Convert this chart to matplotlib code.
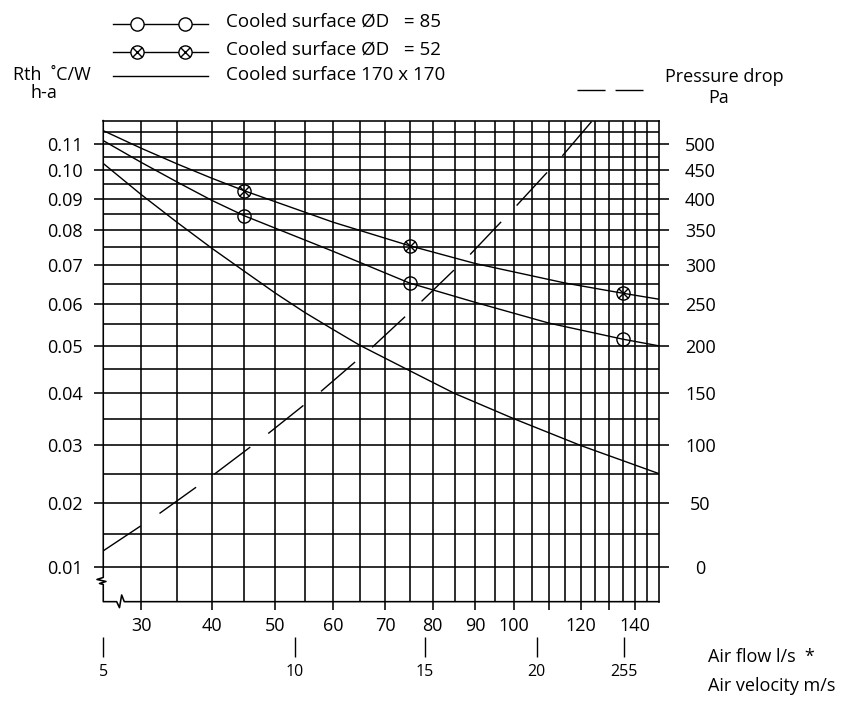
import numpy as np
import matplotlib
matplotlib.use("Agg")
from matplotlib import pyplot as plt

plt.rcParams['font.family'] = ['Open Sans', 'DejaVu Sans']

# values
# air flow in l/s, thermal resistance Rth(h-a) in degC/W
flow_170 = [25, 30, 35, 40, 45, 50, 55, 60, 65, 75, 85, 100, 120, 150]
rth_170 = [0.1024, 0.0913, 0.0823, 0.0747, 0.0683, 0.0626, 0.0578, 0.0538,
           0.0502, 0.0447, 0.0400, 0.0350, 0.0300, 0.0250]

flow_d85 = [25, 30, 35, 40, 45, 60, 75, 90, 110, 135, 150]
rth_d85 = [0.1114, 0.1028, 0.0956, 0.0894, 0.0844, 0.0738, 0.0652, 0.0603,
           0.0553, 0.0516, 0.0501]

flow_d52 = [25, 30, 35, 40, 45, 60, 75, 90, 115, 135, 150]
rth_d52 = [0.1156, 0.1083, 0.1022, 0.0970, 0.0926, 0.0824, 0.0754, 0.0704,
           0.0652, 0.0626, 0.0611]

# measured points (45, 75 and 135 l/s)
mark_idx = [4, 6, 9]

# pressure drop in Pa
flow_dp = [25, 32.5, 40.4, 48.8, 57.8, 67.5, 77.7, 88.8, 100.8, 114.3, 123.7]
dp = [12, 41.5, 74.5, 111, 152, 199.5, 253.5, 315, 389, 478, 548]

flow_ticks = [30, 40, 50, 60, 70, 80, 90, 100, 110, 120, 130, 140]
flow_labels = ['30', '40', '50', '60', '70', '80', '90', '100', '', '120', '', '140']
rth_ticks = [0.01, 0.02, 0.03, 0.04, 0.05, 0.06, 0.07, 0.08, 0.09, 0.10, 0.11]
pa_ticks = [0, 50, 100, 150, 200, 250, 300, 350, 400, 450, 500]
vel_flow = [25, 53.2, 78.3, 106.4, 135.4]
vel_labels = ['5', '10', '15', '20', '255']


# the datasheet grid is exponential on both axes
def fwd_q(q):
    return -np.exp(-0.01 * np.asarray(q, dtype=float))


def inv_q(f):
    return -100 * np.log(np.clip(-np.asarray(f, dtype=float), 1e-9, None))


def fwd_r(r):
    return -np.exp(-10 * np.asarray(r, dtype=float))


def inv_r(f):
    return -0.1 * np.log(np.clip(-np.asarray(f, dtype=float), 1e-9, None))


# pressure axis: 0 Pa <-> 0.01, 500 Pa <-> 0.11
def fwd_p(p):
    return fwd_r(np.asarray(p, dtype=float) / 5000 + 0.01)


def inv_p(f):
    return (inv_r(f) - 0.01) * 5000


r_lo, r_hi = 0.0049, 0.12
lw = 1.15

fig = plt.figure(figsize=(8.43, 7.01), dpi=100)
ax = fig.add_axes([0.1225, 0.1417, 0.6589, 0.6862])
ax.set_xscale('function', functions=(fwd_q, inv_q))
ax.set_yscale('function', functions=(fwd_r, inv_r))
ax.set_xlim(25, 150)
ax.set_ylim(r_lo, r_hi)

ax.set_xticks(flow_ticks, flow_labels)
ax.set_xticks(np.arange(35, 150, 10), minor=True)
ax.set_yticks(rth_ticks, [f'{v:.2f}' for v in rth_ticks])
ax.set_yticks(np.arange(0.015, 0.1151, 0.01), minor=True)
ax.grid(True, which='both', color='black', lw=lw)
ax.tick_params(axis='x', which='major', direction='out', length=6, width=lw,
               pad=5, labelsize=13)
ax.tick_params(axis='y', which='major', direction='out', length=6.5, width=lw,
               pad=8.5, labelsize=13)
ax.tick_params(which='minor', length=0)
ax.spines['left'].set_visible(False)
ax.spines['bottom'].set_visible(False)
for s in ['top', 'right']:
    ax.spines[s].set_linewidth(lw)

# curves
ax.plot(flow_170, rth_170, color='black', lw=1.0)
ax.plot(flow_d85, rth_d85, color='black', lw=1.0, marker='o', ms=9.5,
        mfc='none', mec='black', mew=1.0, markevery=mark_idx)
ax.plot(flow_d52, rth_d52, color='black', lw=1.0, marker='o', ms=9.5,
        mfc='none', mec='black', mew=1.0, markevery=mark_idx)
ax.plot(np.take(flow_d52, mark_idx), np.take(rth_d52, mark_idx), ls='none',
        marker='x', ms=6.7, mew=1.0, color='black')

# pressure drop on the right hand scale
axp = ax.twinx()
axp.set_yscale('function', functions=(fwd_p, inv_p))
axp.set_ylim((r_lo - 0.01) * 5000, (r_hi - 0.01) * 5000)
axp.set_yticks(pa_ticks, [str(v) for v in pa_ticks])
axp.tick_params(axis='y', direction='out', length=7, width=lw, pad=23, labelsize=13)
for lbl in axp.get_yticklabels():
    lbl.set_horizontalalignment('center')
for s in axp.spines.values():
    s.set_visible(False)
axp.plot(flow_dp, dp, color='black', lw=1.0, ls=(0, (32.4, 16.2)))

# air velocity scale under the air flow scale
axv = ax.twiny()
axv.set_xscale('function', functions=(fwd_q, inv_q))
axv.set_xlim(25, 150)
axv.xaxis.set_ticks_position('bottom')
axv.spines['bottom'].set_position(('outward', 25.7))
for s in axv.spines.values():
    s.set_visible(False)
axv.set_xticks(vel_flow, vel_labels)
axv.tick_params(axis='x', direction='out', length=14.4, width=1, pad=5, labelsize=11.5)

# left and bottom frame with the break marks (axes fractions)
W, H = 555.4, 481.0


def frac(px, py):
    return (px - 103.3) / W, (601.7 - py) / H


left_pts = [(103.3, 120.7), (103.3, 577.5), (97, 579.5), (106, 581.5),
            (99.5, 583.5), (103.3, 584.5), (103.3, 601.7), (116.7, 601.7),
            (119.5, 607.7), (121.7, 595), (124.3, 601.7), (658.7, 601.7)]
fx, fy = zip(*[frac(a, b) for a, b in left_pts])
ax.plot(fx, fy, color='black', lw=lw, transform=ax.transAxes, clip_on=False)

# overlay in pixel units for the header and legend
lg = fig.add_axes([0, 0, 1, 1])
lg.set_xlim(0, 843)
lg.set_ylim(701, 0)
lg.axis('off')

lg.plot([113, 208], [24, 24], color='black', lw=1.0)
lg.plot([137, 185], [24, 24], ls='none', marker='o', ms=9.5, mfc='white',
        mec='black', mew=1.0)
lg.plot([113, 208], [51.7, 51.7], color='black', lw=1.0)
lg.plot([137, 185], [51.7, 51.7], ls='none', marker='o', ms=9.5, mfc='white',
        mec='black', mew=1.0)
lg.plot([137, 185], [51.7, 51.7], ls='none', marker='x', ms=6.7, mew=1.0,
        color='black')
lg.plot([113, 208], [76, 76], color='black', lw=1.0)
lg.plot([577, 643], [90, 90], color='black', lw=1.0, ls=(0, (20.2, 7.2)))

fs = 13
fs_leg = 13.5
lg.text(226, 22, 'Cooled surface ØD   = 85', fontsize=fs_leg, va='center')
lg.text(226, 50, 'Cooled surface ØD   = 52', fontsize=fs_leg, va='center')
lg.text(226, 75, 'Cooled surface 170 x 170', fontsize=fs_leg, va='center')
lg.text(13, 75, 'Rth  ˚C/W', fontsize=fs, va='center')
lg.text(30, 93, 'h-a', fontsize=fs, va='center')
lg.text(665, 77, 'Pressure drop', fontsize=fs, va='center')
lg.text(719, 98, 'Pa', fontsize=fs, va='center', ha='center')
lg.text(708, 657, 'Air flow l/s  *', fontsize=fs, va='center')
lg.text(708, 686, 'Air velocity m/s', fontsize=fs, va='center')

fig.savefig('out.png', dpi=100)
